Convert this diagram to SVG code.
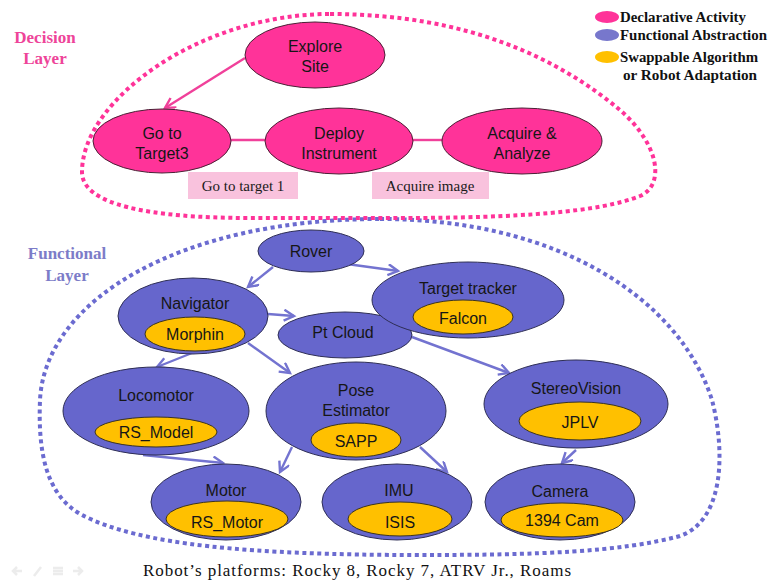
<svg xmlns="http://www.w3.org/2000/svg" width="768" height="581" viewBox="0 0 768 581">
  <defs>
    <marker id="arrowPink" markerUnits="userSpaceOnUse" markerWidth="14" markerHeight="14" refX="11" refY="6" orient="auto">
      <path d="M1,0.5 L11,6 L1,11.5" fill="none" stroke="#f0409a" stroke-width="2.4"/>
    </marker>
    <marker id="arrowBlue" markerUnits="userSpaceOnUse" markerWidth="14" markerHeight="14" refX="11" refY="6" orient="auto">
      <path d="M1,0.5 L11,6 L1,11.5" fill="none" stroke="#7373d0" stroke-width="2.4"/>
    </marker>
  </defs>
  <style>
    .decl { fill: #ff3399; stroke: #4a2035; stroke-width: 1; }
    .func { fill: #6666cc; stroke: #2e2e55; stroke-width: 1; }
    .algo { fill: #ffc000; stroke: #3a3320; stroke-width: 1; }
    .lbl { font-family: "Liberation Sans", Arial, sans-serif; font-size: 16px; fill: #161616; text-anchor: middle; }
    .note { font-family: "Liberation Serif", "Times New Roman", serif; font-size: 15px; fill: #1a1a1a; text-anchor: middle; }
    .legend { font-family: "Liberation Serif", "Times New Roman", serif; font-weight: bold; font-size: 14px; fill: #111; }
    .layer { font-family: "Liberation Serif", "Times New Roman", serif; font-weight: bold; font-size: 17px; text-anchor: middle; }
    .notebox { fill: #f9c2dd; }
    .linkPink { fill: none; stroke: #f0409a; stroke-width: 2.4; }
    .linkBlue { fill: none; stroke: #7373d0; stroke-width: 2.4; }
    .icon { fill: none; stroke: #ececec; stroke-width: 2.5; }
  </style>

  <rect width="768" height="581" fill="#ffffff"/>

  <!-- layer boundaries -->
  <path id="functional-boundary" d="M 380,219 C 560,219 680,300 712,400 C 725,450 725,520 680,536 C 620,552 540,555 420,555 C 250,555 140,545 82,515 C 45,495 38,450 40,400 C 45,300 180,219 380,219 Z" fill="none" stroke="#6b6bd0" stroke-width="4" stroke-dasharray="4 3.5"/>
  <path id="decision-boundary" d="M 330,14 C 470,14 560,60 620,110 C 660,145 665,185 640,196 C 600,212 520,218 400,218 L 250,218 C 150,218 82,205 82,172 C 82,100 200,14 330,14 Z" fill="none" stroke="#ff3399" stroke-width="4" stroke-dasharray="4 3.5"/>

  <text class="layer" x="45" y="43" fill="#ee4499">Decision</text>
  <text class="layer" x="45" y="64" fill="#ee4499">Layer</text>
  <text class="layer" x="67" y="259" fill="#7c7cc8">Functional</text>
  <text class="layer" x="67" y="281" fill="#7c7cc8">Layer</text>

  <!-- legend -->
  <g id="legend">
    <ellipse cx="607" cy="17" rx="12" ry="6" fill="#ff3399"/>
    <text class="legend" x="620" y="22" textLength="126" lengthAdjust="spacingAndGlyphs">Declarative Activity</text>
    <ellipse cx="607" cy="35" rx="12" ry="6" fill="#7777cc"/>
    <text class="legend" x="620" y="40" textLength="147" lengthAdjust="spacingAndGlyphs">Functional Abstraction</text>
    <ellipse cx="607" cy="57" rx="12" ry="6" fill="#ffc000"/>
    <text class="legend" x="620" y="62" textLength="138" lengthAdjust="spacingAndGlyphs">Swappable Algorithm</text>
    <text class="legend" x="623" y="80" textLength="134" lengthAdjust="spacingAndGlyphs">or  Robot Adaptation</text>
  </g>

  <!-- connectors -->
  <g id="connectors">
    <line class="linkPink" x1="245" y1="58" x2="165" y2="108" marker-end="url(#arrowPink)"/>
    <line class="linkPink" x1="231" y1="140" x2="265" y2="140"/>
    <line class="linkPink" x1="413" y1="140" x2="442" y2="140"/>

    <line class="linkBlue" x1="273" y1="267" x2="248" y2="287" marker-end="url(#arrowBlue)"/>
    <line class="linkBlue" x1="347" y1="264" x2="398" y2="271" marker-end="url(#arrowBlue)"/>
    <line class="linkBlue" x1="268" y1="314" x2="294" y2="316" marker-end="url(#arrowBlue)"/>
    <line class="linkBlue" x1="192" y1="353" x2="157" y2="367" marker-end="url(#arrowBlue)"/>
    <line class="linkBlue" x1="248" y1="343" x2="290" y2="373" marker-end="url(#arrowBlue)"/>
    <line class="linkBlue" x1="412" y1="337" x2="509" y2="373" marker-end="url(#arrowBlue)"/>
    <line class="linkBlue" x1="143" y1="455" x2="223" y2="463" marker-end="url(#arrowBlue)"/>
    <line class="linkBlue" x1="292" y1="447" x2="280" y2="472" marker-end="url(#arrowBlue)"/>
    <line class="linkBlue" x1="420" y1="447" x2="447" y2="472" marker-end="url(#arrowBlue)"/>
    <line class="linkBlue" x1="576" y1="450" x2="562" y2="463" marker-end="url(#arrowBlue)"/>
  </g>

  <!-- decision layer activities -->
  <g id="explore-site">
    <ellipse class="decl" cx="315" cy="55" rx="70" ry="33"/>
    <text class="lbl" x="315" y="52">Explore</text>
    <text class="lbl" x="315" y="72">Site</text>
  </g>
  <g id="go-to-target">
    <ellipse class="decl" cx="162" cy="141" rx="69" ry="32"/>
    <text class="lbl" x="162" y="139">Go to</text>
    <text class="lbl" x="162" y="159">Target3</text>
  </g>
  <g id="deploy-instrument">
    <ellipse class="decl" cx="339" cy="141" rx="74" ry="33"/>
    <text class="lbl" x="339" y="139">Deploy</text>
    <text class="lbl" x="339" y="159">Instrument</text>
  </g>
  <g id="acquire-analyze">
    <ellipse class="decl" cx="522" cy="141" rx="80" ry="33"/>
    <text class="lbl" x="522" y="139">Acquire &amp;</text>
    <text class="lbl" x="522" y="159">Analyze</text>
  </g>
  <g id="note-go-to-target-1">
    <rect class="notebox" x="188" y="172" width="110" height="27"/>
    <text class="note" x="243" y="191">Go to target 1</text>
  </g>
  <g id="note-acquire-image">
    <rect class="notebox" x="372" y="172" width="117" height="27"/>
    <text class="note" x="430" y="191">Acquire image</text>
  </g>

  <!-- functional layer -->
  <g id="rover">
    <ellipse class="func" cx="311" cy="251" rx="53" ry="21"/>
    <text class="lbl" x="311" y="257">Rover</text>
  </g>
  <g id="navigator">
    <ellipse class="func" cx="193" cy="316" rx="75" ry="38"/>
    <text class="lbl" x="195" y="309">Navigator</text>
    <ellipse class="algo" cx="195" cy="334" rx="50" ry="17"/>
    <text class="lbl" x="195" y="340">Morphin</text>
  </g>
  <g id="pt-cloud">
    <ellipse class="func" cx="345" cy="335" rx="67" ry="23"/>
    <text class="lbl" x="343" y="338">Pt Cloud</text>
  </g>
  <g id="target-tracker">
    <ellipse class="func" cx="468" cy="300" rx="96" ry="38"/>
    <text class="lbl" x="468" y="294">Target tracker</text>
    <ellipse class="algo" cx="463" cy="317" rx="50" ry="17"/>
    <text class="lbl" x="463" y="324">Falcon</text>
  </g>
  <g id="locomotor">
    <ellipse class="func" cx="156" cy="411" rx="93" ry="44"/>
    <text class="lbl" x="156" y="401">Locomotor</text>
    <ellipse class="algo" cx="156" cy="432" rx="61" ry="15"/>
    <text class="lbl" x="156" y="438">RS_Model</text>
  </g>
  <g id="pose-estimator">
    <ellipse class="func" cx="356" cy="411" rx="90" ry="49"/>
    <text class="lbl" x="356" y="396">Pose</text>
    <text class="lbl" x="356" y="416">Estimator</text>
    <ellipse class="algo" cx="356" cy="440" rx="45" ry="17"/>
    <text class="lbl" x="356" y="447">SAPP</text>
  </g>
  <g id="stereovision">
    <ellipse class="func" cx="576" cy="404" rx="92" ry="44"/>
    <text class="lbl" x="576" y="394">StereoVision</text>
    <ellipse class="algo" cx="580" cy="421" rx="61" ry="19"/>
    <text class="lbl" x="580" y="428">JPLV</text>
  </g>
  <g id="motor">
    <ellipse class="func" cx="226" cy="502" rx="75" ry="38"/>
    <text class="lbl" x="226" y="496">Motor</text>
    <ellipse class="algo" cx="227" cy="519" rx="61" ry="18"/>
    <text class="lbl" x="227" y="528">RS_Motor</text>
  </g>
  <g id="imu">
    <ellipse class="func" cx="397" cy="502" rx="75" ry="38"/>
    <text class="lbl" x="399" y="496">IMU</text>
    <ellipse class="algo" cx="400" cy="519" rx="52" ry="17"/>
    <text class="lbl" x="400" y="528">ISIS</text>
  </g>
  <g id="camera">
    <ellipse class="func" cx="560" cy="502" rx="75" ry="38"/>
    <text class="lbl" x="560" y="497">Camera</text>
    <ellipse class="algo" cx="562" cy="520" rx="61" ry="17"/>
    <text class="lbl" x="562" y="526">1394 Cam</text>
  </g>

  <!-- platform caption -->
  <text x="357" y="576" font-family="'Liberation Serif', 'Times New Roman', serif" font-size="17" fill="#111" text-anchor="middle" textLength="428" lengthAdjust="spacing">Robot’s platforms: Rocky 8, Rocky 7, ATRV  Jr., Roams</text>

  <!-- faint slide controls -->
  <g id="slide-controls">
    <path class="icon" d="M22,571 L14,571 M17,567 L13,571 L17,575"/>
    <path class="icon" d="M34,576 L41,567"/>
    <path class="icon" d="M53,568 L63,568 M53,571 L63,571 M53,574 L63,574"/>
    <path class="icon" d="M73,571 L81,571 M78,567 L82,571 L78,575"/>
  </g>
</svg>
